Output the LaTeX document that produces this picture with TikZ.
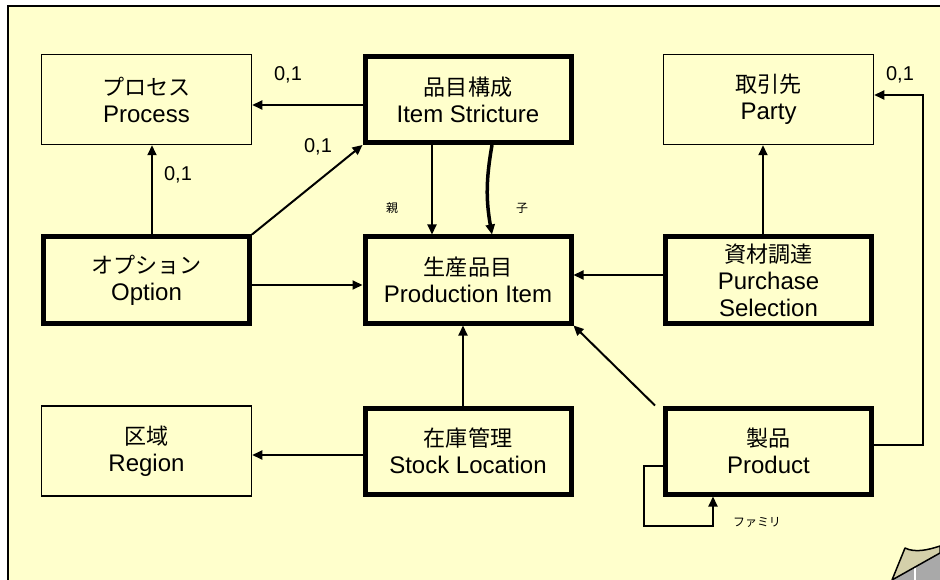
\documentclass[tikz,border=0pt]{standalone}
\usepackage{fontspec}
\setmainfont{Liberation Sans}
\newfontfamily\jpfont[Scale=0.92]{Noto Sans CJK JP}
\usetikzlibrary{arrows.meta,positioning}
\usepackage{xcolor}
\definecolor{erPaper}{HTML}{FFFFCC}
\definecolor{erCurl}{HTML}{D4D0AA}
\definecolor{erShade}{HTML}{A9A9A9}
\tikzset{
    ent/.style={
        draw=black,line width=1.5pt,fill=erPaper,
        minimum width=210pt,minimum height=90pt,
        align=center,font=\fontsize{24}{27}\selectfont
    },
    core/.style={ent,line width=5pt,minimum width=206pt,minimum height=86pt},
    rel/.style={-{Triangle[length=10pt,width=9pt]},line width=2pt},
    card/.style={font=\fontsize{20}{22}\selectfont},
    role/.style={font=\jpfont\fontsize{13}{14}\selectfont}
}

\begin{document}
\begin{tikzpicture}[x=1pt,y=-1pt]

\useasboundingbox (0,0) rectangle (940,580);

% sheet
\fill[erPaper] (8,6) rectangle (960,600);
\draw[line width=1.5pt] (8,600) -- (8,6) -- (960,6);

% entities
\node[ent] (proc) at (146.5,99.5) {{\jpfont プロセス}\\Process};
\node[core] (item) at (468,99.5) {{\jpfont 品目構成}\\Item Stricture};
\node[ent] (party) at (768.5,99.5) {{\jpfont 取引先}\\Party};
\node[core] (opt) at (146.5,280) {{\jpfont オプション}\\Option};
\node[core] (prod) at (468,280) {{\jpfont 生産品目}\\Production Item};
\node[core] (purch) at (768.5,280) {{\jpfont 資材調達}\\Purchase\\Selection};
\node[ent] (region) at (146.5,451) {{\jpfont 区域}\\Region};
\node[core] (stock) at (468,451) {{\jpfont 在庫管理}\\Stock Location};
\node[core] (product) at (768.5,451) {{\jpfont 製品}\\Product};

% relations
\draw[rel] ([yshift=-5.5pt]item.west) -- ([yshift=-5.5pt]proc.east);
\draw[rel] ([xshift=5.5pt]opt.north) -- ([xshift=5.5pt]proc.south);
\draw[rel] (opt.north east) -- (item.south west);
\draw[rel] ([xshift=-36pt]item.south) -- ([xshift=-36pt]prod.north);
\draw[rel,line width=3.5pt] ([xshift=24pt]item.south) to[bend right=10] ([xshift=24pt]prod.north);
\draw[rel] ([yshift=-5pt]opt.east) -- ([yshift=-5pt]prod.west);
\draw[rel] ([yshift=5pt]purch.west) -- ([yshift=5pt]prod.east);
\draw[rel] ([xshift=-5.5pt]purch.north) -- ([xshift=-5.5pt]party.south);
\draw[rel] ([xshift=-5pt]stock.north) -- ([xshift=-5pt]prod.south);
\draw[rel] ([yshift=-4pt]stock.west) -- ([yshift=-4pt]region.east);
\draw[rel] ([xshift=-8pt]product.north west) -- (prod.south east);
\draw[rel] ([yshift=6pt]product.east) -- ++(49pt,0) |- ([yshift=4.5pt]party.east);
\draw[rel] ([yshift=-15pt]product.west) -- ++(-19pt,0) -- ++(0,-60pt)
    -| ([xshift=-55.5pt]product.south);

% labels
\node[card] (c1) at (288,75) {0,1};
\node[card] (c2) at (178,175) {0,1};
\node[card] (c3) at (318,147) {0,1};
\node[card] (c4) at (900,75) {0,1};
\node[role] (oya) at (392,208) {親};
\node[role] (ko) at (522,208) {子};
\node[role] (fam) at (757,522) {ファミリ};

% page curl
\fill[erShade] (892,580) -- (940,553) -- (940,580) -- cycle;
\draw[white,line width=2pt] (915,567) -- (915,582);
\filldraw[fill=erCurl,line width=1.5pt,line join=round]
    (905,548) .. controls (915,553) and (928,550) .. (940,546)
    -- (940,553) -- (892,580) -- cycle;

\end{tikzpicture}
\end{document}
